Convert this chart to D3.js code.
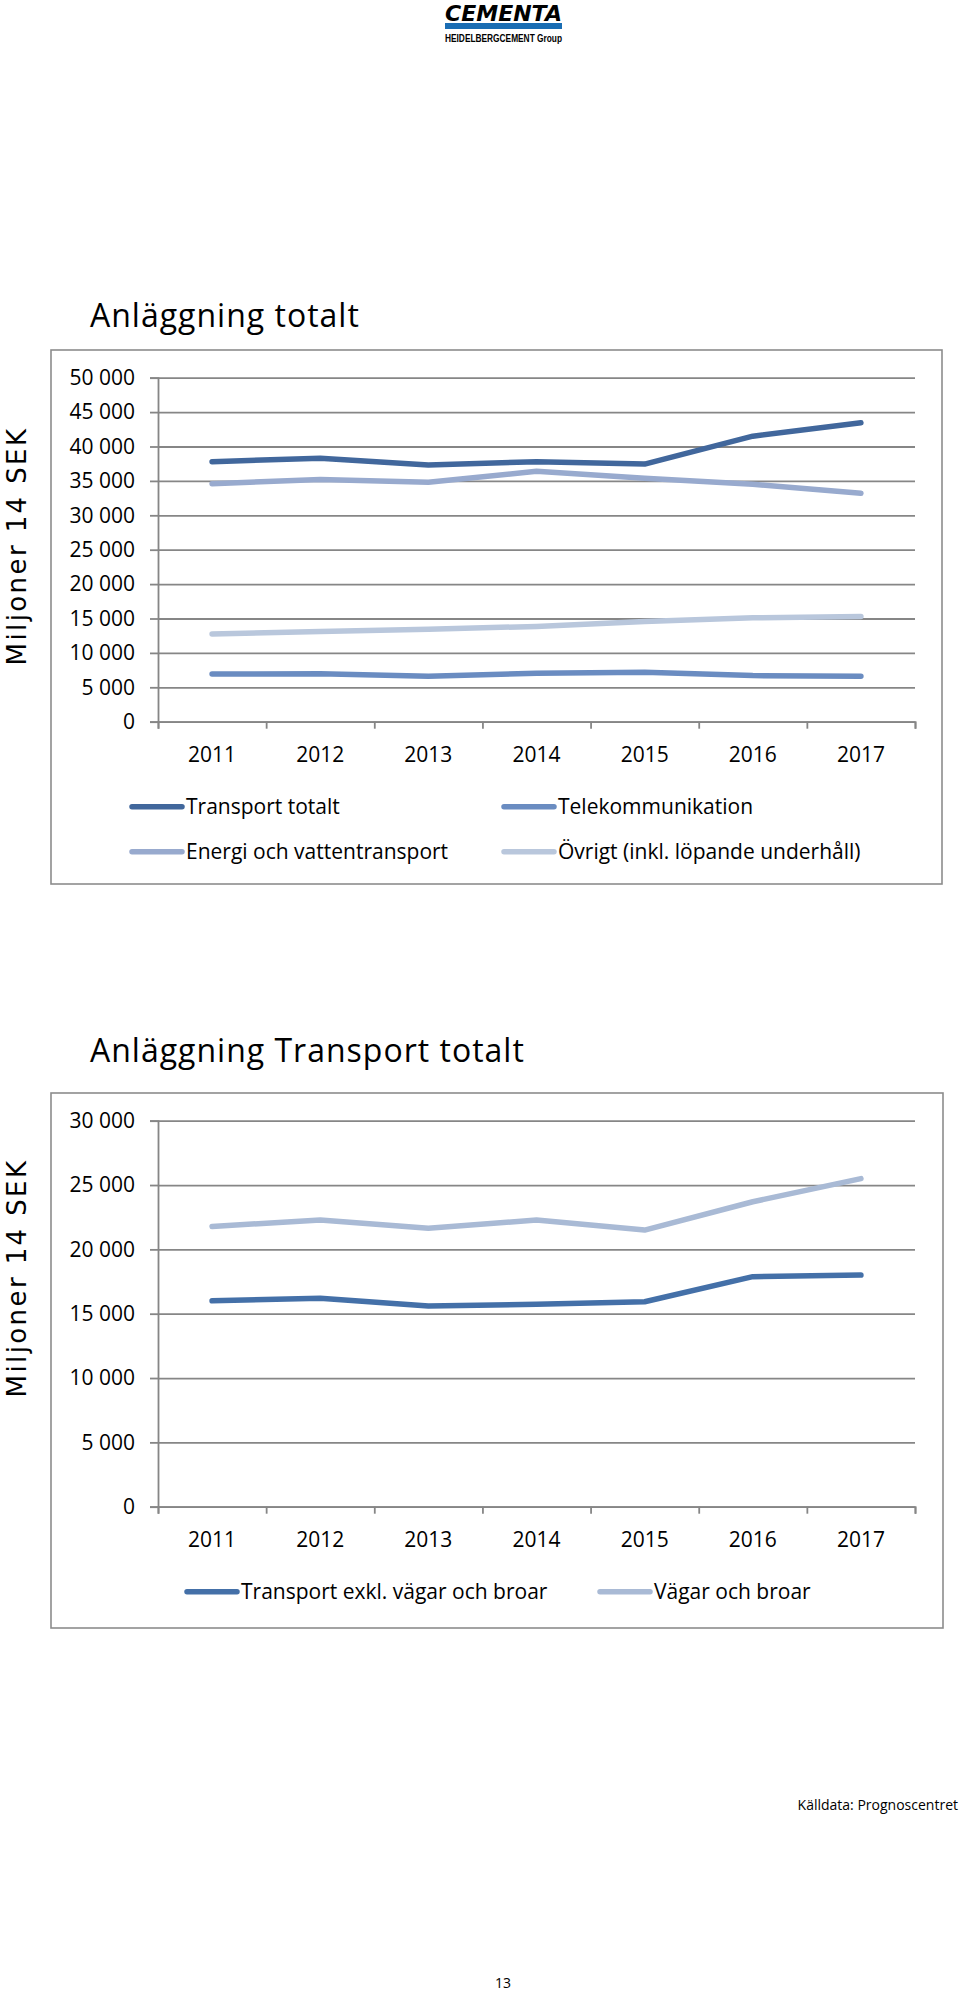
<!DOCTYPE html>
<html>
<head>
<meta charset="utf-8">
<script src="https://cdn.jsdelivr.net/npm/d3@7"></script>
<style>
  html, body { margin: 0; padding: 0; background: #fff; }
  svg { display: block; }
  text { font-family: "Open Sans", sans-serif; fill: #000; }
</style>
</head>
<body>
<svg id="page" width="960" height="1996"></svg>
<script>
// ---------- data ----------
const years = ["2011", "2012", "2013", "2014", "2015", "2016", "2017"];

// Chart 1: Anläggning totalt
const transportTotalt = [37800, 38300, 37300, 37800, 37450, 41500, 43450];
const telekommunikation = [6930, 6980, 6600, 7030, 7170, 6700, 6600];
const energiVatten = [34600, 35200, 34800, 36400, 35400, 34500, 33200];
const ovrigt = [12750, 13100, 13450, 13850, 14550, 15100, 15300];
const chart1Ticks = [0, 5000, 10000, 15000, 20000, 25000, 30000, 35000, 40000, 45000, 50000];

// Chart 2: Anläggning Transport totalt
const transportExkl = [16000, 16200, 15600, 15730, 15930, 17880, 18000];
const vagarBroar = [21780, 22280, 21650, 22280, 21500, 23700, 25500];
const chart2Ticks = [0, 5000, 10000, 15000, 20000, 25000, 30000];

const chart1Series = [
  { name: "Transport totalt", values: transportTotalt, color: "#41679c" },
  { name: "Telekommunikation", values: telekommunikation, color: "#6a8cc1" },
  { name: "Energi och vattentransport", values: energiVatten, color: "#98aace" },
  { name: "Övrigt (inkl. löpande underhåll)", values: ovrigt, color: "#b9c7dc" }
];
const chart2Series = [
  { name: "Transport exkl. vägar och broar", values: transportExkl, color: "#4470a8" },
  { name: "Vägar och broar", values: vagarBroar, color: "#a9bad5" }
];

// ---------- helpers ----------
const svg = d3.select("#page");
const loc = d3.formatLocale({ decimal: ",", thousands: "\u00a0", grouping: [3], currency: ["", ""] });
const fmt = loc.format(",d");

// ---------- logo ----------
const logo = svg.append("g");
logo.append("text").attr("x", 445).attr("y", 20.5)
  .attr("textLength", 117).attr("lengthAdjust", "spacingAndGlyphs")
  .style("font-family", "DejaVu Sans").style("font-weight", "bold")
  .style("font-style", "italic").style("font-size", "21px").text("CEMENTA");
logo.append("rect").attr("x", 445).attr("y", 23).attr("width", 117).attr("height", 6).attr("fill", "#1a6db3");
logo.append("text").attr("x", 445).attr("y", 42)
  .attr("textLength", 117).attr("lengthAdjust", "spacingAndGlyphs")
  .style("font-family", "Liberation Sans").style("font-weight", "bold")
  .style("font-size", "11px").text("HEIDELBERGCEMENT Group");

// ---------- chart builder ----------
function drawChart(cfg) {
  const g = svg.append("g");
  // frame
  g.append("rect").attr("x", cfg.box[0]).attr("y", cfg.box[1])
    .attr("width", cfg.box[2]).attr("height", cfg.box[3])
    .attr("fill", "#fff").attr("stroke", "#8c8c8c").attr("stroke-width", 1.6);
  // title
  g.append("text").attr("x", 90).attr("y", cfg.titleY)
    .style("font-size", "32px").style("letter-spacing", "1px").text(cfg.title);
  // y axis title
  g.append("text")
    .attr("transform", `translate(26,${cfg.yTitleCenter}) rotate(-90)`)
    .attr("text-anchor", "middle")
    .style("font-family", "DejaVu Sans").style("font-size", "26px")
    .style("letter-spacing", "2.4px").text("Miljoner 14 SEK");

  const left = 158, right = 915;
  const y = d3.scaleLinear().domain([0, cfg.max]).range([cfg.y0, cfg.yTop]);
  const x = d3.scaleBand().domain(years).range([left, right]);
  const xb = d3.scaleLinear().domain([0, years.length]).range([left, right]);

  // gridlines
  const grid = g.append("g").attr("transform", `translate(${left},0)`)
    .call(d3.axisLeft(y).tickValues(cfg.ticks).tickSize(-(right - left)).tickFormat(""));
  grid.select(".domain").remove();
  grid.selectAll("line").attr("stroke", "#868686").attr("stroke-width", 1.8);

  // y axis with labels
  const ya = g.append("g").attr("transform", `translate(${left},0)`)
    .call(d3.axisLeft(y).tickValues(cfg.ticks).tickSize(8).tickPadding(15).tickFormat(fmt));
  ya.select(".domain").attr("stroke", "#868686").attr("stroke-width", 1.8);
  ya.selectAll("line").attr("stroke", "#868686").attr("stroke-width", 1.8);
  ya.selectAll("text").style("font-family", "Open Sans").style("font-size", "21px").attr("fill", "#000");

  // x axis ticks at category boundaries
  const xa = g.append("g").attr("transform", `translate(0,${cfg.y0})`)
    .call(d3.axisBottom(xb).tickValues(d3.range(years.length + 1)).tickSize(7).tickFormat(""));
  xa.select(".domain").attr("stroke", "#868686").attr("stroke-width", 1.8);
  xa.selectAll("line").attr("stroke", "#868686").attr("stroke-width", 1.8);
  // x labels
  const xl = g.append("g").attr("transform", `translate(0,${cfg.y0})`)
    .call(d3.axisBottom(x).tickSize(0).tickPadding(25));
  xl.select(".domain").remove();
  xl.selectAll("text").style("font-family", "Open Sans").style("font-size", "21px").attr("fill", "#000");

  // lines
  const line = d3.line().x((d, i) => x(years[i]) + x.bandwidth() / 2).y(d => y(d));
  cfg.series.forEach(s => {
    g.append("path").datum(s.values).attr("d", line)
      .attr("fill", "none").attr("stroke", s.color).attr("stroke-width", 5.5)
      .attr("stroke-linecap", "round").attr("stroke-linejoin", "round");
  });

  // legend
  cfg.legend.forEach((pos, i) => {
    const s = cfg.series[i];
    g.append("line").attr("x1", pos[0]).attr("x2", pos[0] + 50)
      .attr("y1", pos[1]).attr("y2", pos[1])
      .attr("stroke", s.color).attr("stroke-width", 5.5).attr("stroke-linecap", "round");
    g.append("text").attr("x", pos[0] + 54).attr("y", pos[1]).attr("dy", "0.35em")
      .style("font-size", "21px").text(s.name);
  });
}

drawChart({
  title: "Anläggning totalt", titleY: 327,
  box: [51, 350, 891, 534], yTitleCenter: 546,
  max: 50000, ticks: chart1Ticks, y0: 721.7, yTop: 377.7,
  series: chart1Series,
  legend: [[132, 806.7], [504, 806.7], [132, 851.7], [504, 851.7]]
});

drawChart({
  title: "Anläggning Transport totalt", titleY: 1062,
  box: [51, 1093, 892, 535], yTitleCenter: 1278,
  max: 30000, ticks: chart2Ticks, y0: 1506.7, yTop: 1120.7,
  series: chart2Series,
  legend: [[187, 1591.7], [600, 1591.7]]
});

// footer
svg.append("text").attr("x", 958).attr("y", 1810).attr("text-anchor", "end")
  .style("font-size", "14px").text("Källdata: Prognoscentret");
svg.append("text").attr("x", 503).attr("y", 1988).attr("text-anchor", "middle")
  .style("font-size", "14px").text("13");
</script>
</body>
</html>
